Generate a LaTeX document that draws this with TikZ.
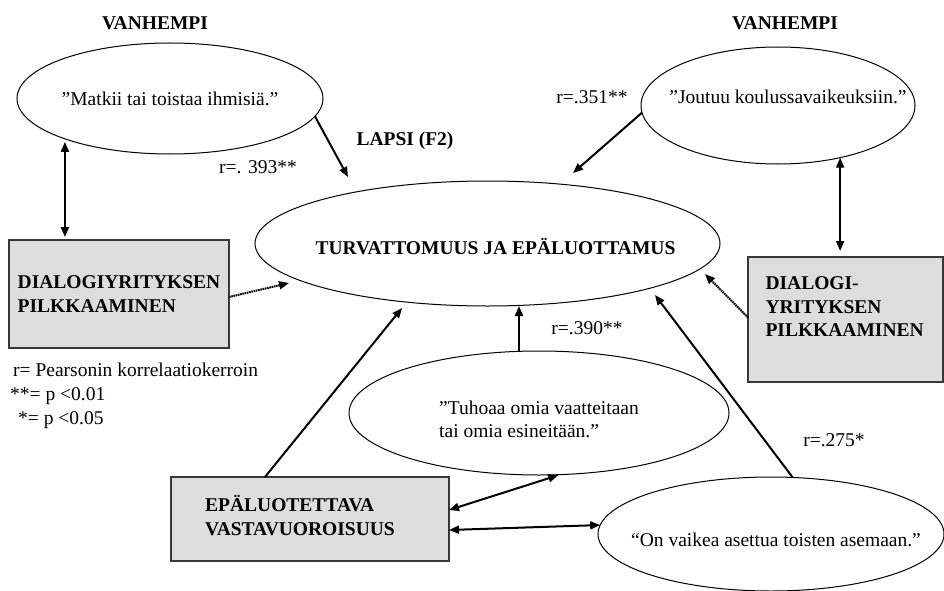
\documentclass[tikz,border=0pt]{standalone}
\usepackage{fontspec}
\setmainfont{Liberation Serif}
\usetikzlibrary{arrows.meta,shapes.geometric}
\definecolor{boxgray}{RGB}{221,221,221}
\definecolor{boxline}{RGB}{55,55,55}
% zero-width text box, so an ellipse keeps its given size
\newcommand{\slimtext}[1]{\makebox[0pt][c]{#1}}
\begin{document}
\begin{tikzpicture}[x=1pt,y=-1pt,
  every node/.style={font=\fontsize{19.5}{23.5}\selectfont},
  oval/.style={ellipse,draw,line width=1pt,inner sep=0pt,outer sep=0pt},
  greybox/.style={rectangle,draw=boxline,fill=boxgray,line width=1.2pt,
    inner sep=0pt,outer sep=0pt,align=left,
    font=\fontsize{19.5}{23.5}\selectfont\bfseries},
  head/.style={font=\fontsize{19.5}{23.5}\selectfont\bfseries},
  coef/.style={inner sep=0pt},
  tip/.tip={Triangle[length=10pt,width=8pt]},
  link/.style={line width=2pt,-tip},
  both/.style={line width=2pt,tip-tip},
  dotlink/.style={link,dash pattern=on 1.6pt off 0.7pt},
]
\useasboundingbox (0,0) rectangle (944,591);

% headings
\node[head] (v1) at (155,23) {VANHEMPI};
\node[head] (v2) at (785,23) {VANHEMPI};
\node[head] (lapsi) at (405,141) {LAPSI (F2)};

% parent items
\node[oval,minimum width=306pt,minimum height=111pt] (m) at (170,98.5)
  {\slimtext{”Matkii tai toistaa ihmisiä.”}};
\node[oval,minimum width=274pt,minimum height=117pt,text depth=18pt] (j) at (778,105.5)
  {\slimtext{\hspace{20pt}”Joutuu koulussavaikeuksiin.”}};

% child factor
\node[oval,minimum width=465pt,minimum height=125pt,text height=23pt,
  font=\fontsize{19.5}{23.5}\selectfont\bfseries] (c) at (487.5,243.5)
  {\slimtext{\hspace{16pt}TURVATTOMUUS JA EPÄLUOTTAMUS}};

% child items
\node[oval,minimum width=380pt,minimum height=124pt] (t) at (539,413)
  {\slimtext{\raisebox{-13.4pt}[0pt][0pt]{\begin{tabular}{@{}l@{}}”Tuhoaa omia vaatteitaan\\tai omia esineitään.”\end{tabular}}}};
\node[oval,minimum width=346pt,minimum height=114pt,text height=25pt] (o) at (771,534)
  {\slimtext{\hspace{10pt}“On vaikea asettua toisten asemaan.”}};

% grey boxes
\node[greybox,minimum width=220pt,minimum height=108pt] (b1) at (119,294)
  {DIALOGIYRITYKSEN\\PILKKAAMINEN};
\node[greybox,minimum width=195pt,minimum height=125pt] (b2) at (845.5,319.5)
  {\parbox[c][92pt][t]{160pt}{\begin{tabular}{@{}l@{}}DIALOGI-\\YRITYKSEN\\PILKKAAMINEN\end{tabular}}};
\node[greybox,minimum width=278pt,minimum height=84pt] (b3) at (310,519)
  {\begin{tabular}{@{}l@{\hspace{20pt}}}EPÄLUOTETTAVA\\VASTAVUOROISUUS\end{tabular}};

% correlation labels
\node[coef] (r1) at (258,167) {r=. 393**};
\node[coef] (r2) at (592,97) {r=.351**};
\node[coef] (r3) at (587,328) {r=.390**};
\node[coef] (r4) at (834,440) {r=.275*};

% legend
\node[coef,anchor=west] (k1) at (13,370) {r= Pearsonin korrelaatiokerroin};
\node[coef,anchor=west] (k2) at (10,396) {**= p <0.01};
\node[coef,anchor=west] (k3) at (18,420) {*= p <0.05};

% free arrow ends near the factor ellipse
\coordinate (mEnd) at (348,177);
\coordinate (jEnd) at (573,173);
\coordinate (b1End) at (289,283);
\coordinate (b2End) at (705,274);
\coordinate (b3End) at (402,308);
\coordinate (oEnd) at (655,295);

% connectors
\draw[link] (m.-7) -- (mEnd);
\draw[link] (j.183) -- (jEnd);
\draw[both,shorten <=3pt,shorten >=3pt] (m.201.4) -- (m.201.4 |- b1.north);
\draw[both,shorten >=6pt] (j.-40) -- (j.-40 |- b2.north);
\draw[dotlink] ([yshift=-3pt]b1.east) -- (b1End);
\draw[dotlink] ([yshift=2pt]b2.west) -- (b2End);
\draw[link] ([xshift=-45pt]b3.north) -- (b3End);
\draw[link] (t.108.7) -- (t.108.7 |- c.south);
\draw[link] (o.69.8) -- (oEnd);
\draw[both,shorten >=2pt] ([yshift=9pt]b3.east) -- (t.-71.2);
\draw[both] ([yshift=-11pt]b3.east) -- (o.177.3);
\end{tikzpicture}
\end{document}
